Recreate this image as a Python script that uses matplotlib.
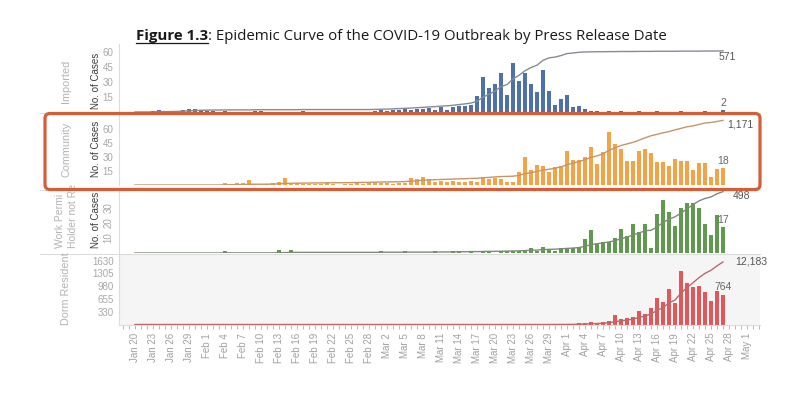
import numpy as np
import matplotlib
matplotlib.use("Agg")
import matplotlib.pyplot as plt
from matplotlib.patches import FancyBboxPatch
from matplotlib.lines import Line2D
from matplotlib.transforms import IdentityTransform

# ---------------- data (day 0 = Jan 20, last day = Apr 27) ----------------
tick_labels = ["Jan 20", "Jan 23", "Jan 26", "Jan 29", "Feb 1", "Feb 4", "Feb 7", "Feb 10",
               "Feb 13", "Feb 16", "Feb 19", "Feb 22", "Feb 25", "Feb 28", "Mar 2", "Mar 5",
               "Mar 8", "Mar 11", "Mar 14", "Mar 17", "Mar 20", "Mar 23", "Mar 26", "Mar 29",
               "Apr 1", "Apr 4", "Apr 7", "Apr 10", "Apr 13", "Apr 16", "Apr 19", "Apr 22",
               "Apr 25", "Apr 28", "May 1"]
tick_days = list(range(0, 103, 3))

# row headers as they appear (the long one is truncated in the source)
categories = ["Imported", "Community", ["Work Permi", "Holder not Re"], "Dorm Resident"]
cum_labels = ["571", "1,171", "498", "12,183"]

imported = [0, 0, 0, 1, 2, 0, 1, 1, 2, 3, 3, 2, 1, 1, 0, 1, 0, 0, 0, 0, 1, 1, 0, 0, 0, 0, 0, 0,
            1, 0, 0, 0, 0, 0, 0, 0, 0, 0, 0, 0, 1, 2, 1, 2, 2, 3, 2, 3, 3, 4, 2,
            5, 2, 5, 6, 6, 7, 16, 35, 24, 28, 39, 17, 49, 31, 39, 28, 20, 42, 21, 7, 13, 17, 5, 6, 3,
            1, 1, 0, 1, 0, 1, 0, 0, 1, 0, 0, 1, 0, 0, 0, 1, 0, 0, 0, 1, 0, 0, 2]
community = [0] * 15 + [2, 1, 2, 2, 5, 1, 0, 1, 2, 3, 8, 2, 2, 1, 1, 1, 1, 2, 1, 0, 1, 1, 2, 1, 2,
                        3, 2, 2, 1, 2, 2, 8, 6, 9, 6, 3, 4, 3, 4,
                        3, 3, 4, 3, 9, 6, 8, 6, 3, 3, 14, 30, 16, 22, 20, 14, 19, 21, 37, 27,
                        27, 30, 41, 23, 36, 57, 44, 39, 26, 26, 37, 39, 35, 25, 25, 21, 28, 26, 26, 16,
                        24, 24, 9, 17, 18]
work_permit = [0] * 15 + [1] + [0] * 8 + [2, 0, 2] + [0] * 14 + [1, 0, 0, 0, 1, 0, 0, 0, 0, 1, 0, 0] + \
              [1, 1, 0, 1, 0, 1, 1, 0, 1, 1] + \
              [1, 1, 2, 3, 1, 4, 2, 1, 3, 3, 3, 4, 9, 15, 6, 7, 7, 10, 16, 11, 19, 14, 19, 3,
               26, 35, 27, 18, 30, 33, 33, 30, 19, 12, 25, 17]
dorm = [0] * 67 + [1, 0, 2, 3, 4, 6, 9, 28, 36, 64, 37, 63, 78, 233, 143, 154, 188, 335, 276, 409,
                   677, 563, 894, 550, 1370, 1052, 967, 983, 837, 597, 860, 764]

yticks_imported = [15, 30, 45, 60]
yticks_community = [15, 30, 45, 60]
yticks_work_permit = [10, 20, 30]
yticks_dorm = [330, 655, 980, 1305, 1630]

# ---------------- layout ----------------
W, H = 800, 396
fig = plt.figure(figsize=(8, 3.96), dpi=100)
fig.patch.set_facecolor("white")
FONT = ["Liberation Sans", "DejaVu Sans"]

X0, PXD = 135.0, 6.0          # pixel of day 0, pixels per day
LEFT, RIGHT = 119, 760
xlim = ((LEFT - X0) / PXD, (RIGHT - X0) / PXD)


def rect(top, bottom):
    return [LEFT / W, 1 - bottom / H, (RIGHT - LEFT) / W, (bottom - top) / H]


panels = [
    dict(vals=imported, ticks=yticks_imported, top=44, base=112, ymax=68, frac=0.9,
         color="#4d72a8", line="#858b96", rot=0, cum_off=(-4, -6), hdr_y=81, noc=True),
    dict(vals=community, ticks=yticks_community, top=114, base=185, ymax=76.6, frac=0.91,
         color="#f3a446", line="#c8946a", rot=0, cum_off=(4, -4), hdr_y=149, noc=True),
    dict(vals=work_permit, ticks=yticks_work_permit, top=191, base=253, ymax=41.3, frac=0.99,
         color="#5f9a4e", line="#7d8b76", rot=90, cum_off=(10, -4), hdr_y=220, noc=True),
    dict(vals=dorm, ticks=yticks_dorm, top=255, base=324.5, ymax=1773, frac=0.9,
         color="#e0585b", line="#b86a6a", rot=0, cum_off=(12, 0), hdr_y=289, noc=False),
]

days = np.arange(len(imported))
for i, p in enumerate(panels):
    vals = np.array(p["vals"])
    ax = fig.add_axes(rect(p["top"], p["base"]))
    if i == 3:
        ax.set_facecolor("#f5f5f5")
    ax.bar(days, vals, width=0.75, color=p["color"], linewidth=0, zorder=2)
    ax.set_xlim(xlim)
    ax.set_ylim(0, p["ymax"])
    ax.set_yticks(p["ticks"])
    ax.tick_params(axis="y", length=0, pad=4, labelsize=7, labelcolor="#a8a8a8",
                   labelrotation=p["rot"])
    for lab in ax.get_yticklabels():
        lab.set_family(FONT)
        if p["rot"]:
            lab.set_va("center")
    for s in ("top", "right", "bottom"):
        ax.spines[s].set_visible(False)
    ax.spines["left"].set_color("#dcdcdc")
    ax.spines["left"].set_linewidth(0.8)
    if i < 3:
        ax.set_xticks([])
    else:
        ax.set_xticks(tick_days)
        ax.set_xticklabels(tick_labels, rotation=90, fontsize=7, color="#a0a0a0", family=FONT)
        ax.set_xticks(np.arange(-2, 105), minor=True)
        ax.tick_params(axis="x", which="both", length=3, color="#b8b8b8", width=0.7, pad=3)
        ax.spines["bottom"].set_visible(True)
        ax.spines["bottom"].set_color("#dcdcdc")

    # cumulative line on secondary axis
    cum = np.cumsum(vals)
    ax2 = ax.twinx()
    ax2.set_ylim(0, cum[-1] / p["frac"])
    ax2.plot(days, cum, color=p["line"], lw=1.0, zorder=3)
    ax2.set_axis_off()
    ax2.annotate(cum_labels[i], xy=(days[-1], cum[-1]),
                 xytext=(p["cum_off"][0] * 0.72, p["cum_off"][1] * 0.72),
                 textcoords="offset points", ha="left", va="center", fontsize=7.5,
                 color="#555555", family=FONT, annotation_clip=False)
    # last-day value label
    ax.annotate(f"{vals[-1]:,}", xy=(days[-1], vals[-1]), xytext=(0, 1.5), textcoords="offset points",
                ha="center", va="bottom", fontsize=7.5, color="#666666", family=FONT,
                annotation_clip=False)

    # row header
    hdr = categories[i]
    if isinstance(hdr, list):
        for k, line in enumerate(hdr):
            fig.text((60 + 13 * k) / W, 1 - (p["base"] - 5) / H, line, rotation=90,
                     ha="center", va="bottom", fontsize=7.5, color="#b4b4b4", family=FONT)
    else:
        fig.text(66 / W, 1 - p["hdr_y"] / H, hdr, rotation=90, ha="center", va="center",
                 fontsize=7.8, color="#b4b4b4", family=FONT)
    if p["noc"]:
        fig.text(96 / W, 1 - p["hdr_y"] / H, "No. of Cases", rotation=90, ha="center", va="center",
                 fontsize=7, color="#3a3a3a", family=FONT)

# row dividers
for yy in (113, 190, 254):
    fig.add_artist(Line2D([40, RIGHT], [H - yy, H - yy], transform=IdentityTransform(),
                          color="#dddddd", lw=0.8, zorder=1))

# highlight box around community row
box = FancyBboxPatch((45, H - 189.5), 715, 76, boxstyle="round,pad=0,rounding_size=5",
                     transform=IdentityTransform(), fill=False, edgecolor="#d65d36", lw=2.3, zorder=20)
fig.add_artist(box)

# title with underlined bold prefix
fig.canvas.draw()
r = fig.canvas.get_renderer()
TFONT = ["Open Sans", "DejaVu Sans"]
fs = 11.0
part1 = "Figure 1.3"
part2 = ": Epidemic Curve of the COVID-19 Outbreak by Press Release Date"
t1 = fig.text(0, 0, part1, fontsize=fs, fontweight="bold", family=TFONT, transform=IdentityTransform())
t2 = fig.text(0, 0, part2, fontsize=fs, family=TFONT, transform=IdentityTransform())
w1 = t1.get_window_extent(r).width
w2 = t2.get_window_extent(r).width
fs *= 533.0 / (w1 + w2)
t1.set_fontsize(fs)
t2.set_fontsize(fs)
w1 = t1.get_window_extent(r).width
w2 = t2.get_window_extent(r).width
xs = 401.5 - (w1 + w2) / 2
yb = H - 40
for t, x in ((t1, xs), (t2, xs + w1)):
    t.set_position((x, yb))
    t.set_va("baseline")
    t.set_color("#1a1a1a")
fig.add_artist(Line2D([xs, xs + w1], [yb - 2.5, yb - 2.5], transform=IdentityTransform(),
                      color="#1a1a1a", lw=0.9))

fig.savefig("out.png", dpi=100, facecolor="white")
